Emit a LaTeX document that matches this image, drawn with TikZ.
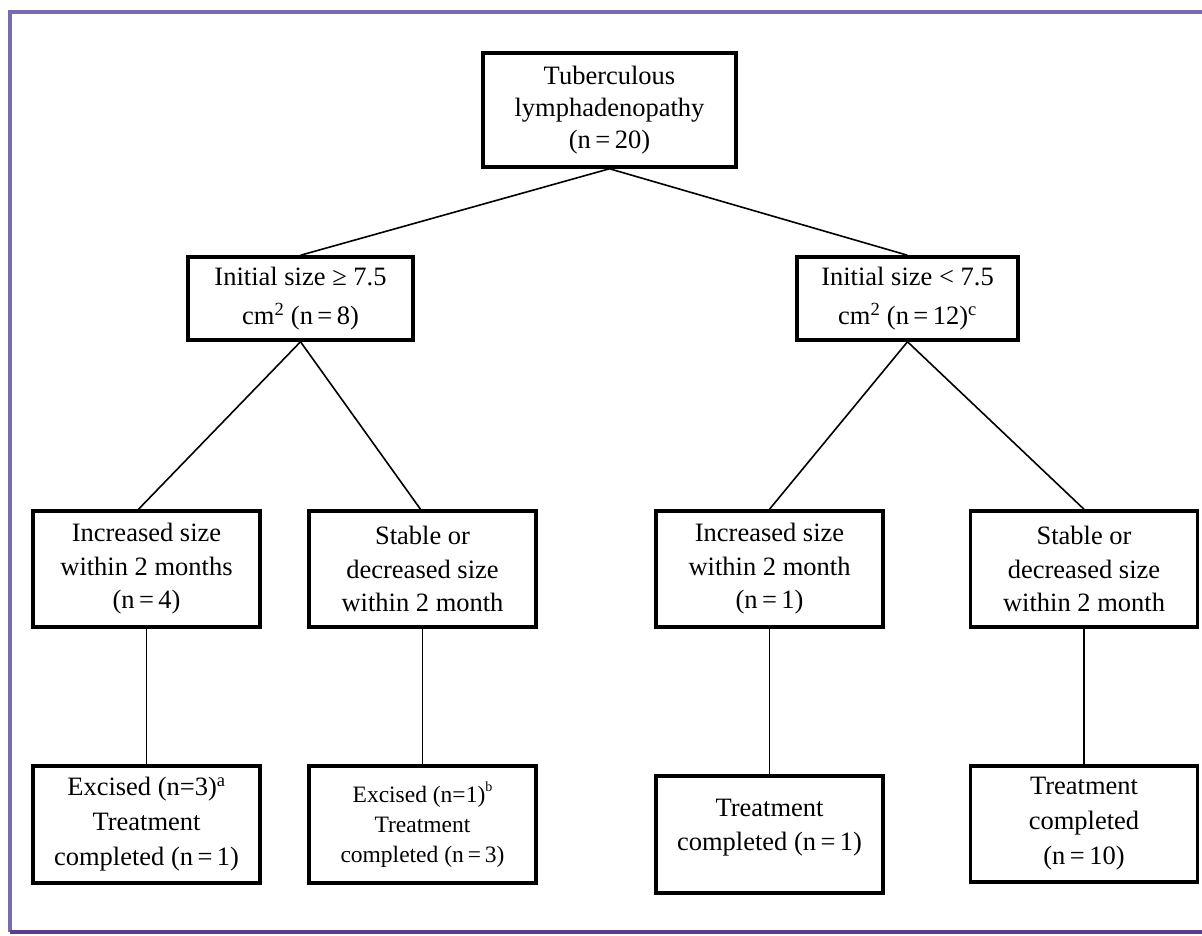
\documentclass[tikz,border=0pt]{standalone}
\usepackage{fontspec}
\setmainfont{Liberation Serif}
\definecolor{framec}{RGB}{122,106,178}
\definecolor{framebot}{RGB}{94,62,140}
\tikzset{
  box/.style={draw, line width=3.5pt, minimum width=227pt, minimum height=116pt,
    inner sep=0pt, align=center, font=\fontsize{26.5}{33.5}\selectfont},
  lnk/.style={line width=1.6pt},
  boxtext/.style={align=center, inner sep=0pt, font=\fontsize{26.5}{34}\selectfont}
}
\begin{document}
\begin{tikzpicture}[x=1pt, y=-1pt]
            \useasboundingbox (0,0) rectangle (1202,935);
            % frame
            \draw[framec, line width=3.5pt] (1202,12) -- (10,12) -- (10,932);
            \draw[framebot, line width=3.5pt] (10,932) -- (1202,932);
            % top
            \node[box, minimum width=253pt, minimum height=114pt, font=\fontsize{26.5}{32}\selectfont] (root) at (609.5,110) {Tuberculous\\lymphadenopathy\\(n\,=\,20)};
            \node[box, minimum width=225pt, minimum height=83pt] (big) at (300.5,298.5) {Initial size ≥ 7.5\\[5pt]cm\textsuperscript{2} (n\,=\,8)};
            \node[box, minimum width=221pt, minimum height=83pt] (small) at (907.5,298.5) {Initial size < 7.5\\[5pt]cm\textsuperscript{2} (n\,=\,12)\textsuperscript{c}};
            % second row
            \node[box] (inc1) at (146.5,569) {Increased size\\within 2 months\\(n\,=\,4)};
            \node[box] (stab1) at (422.5,569) {Stable or\\decreased size\\within 2 month};
            \node[box] (inc2) at (769.5,569) {Increased size\\within 2 month\\(n\,=\,1)};
            \node[box] (stab2) at (1084,569) {Stable or\\decreased size\\within 2 month};
            % last row
            \node[box, minimum height=117pt, font=\fontsize{26.5}{35}\selectfont] (exc1) at (146.5,824.5) {Excised (n=3)\textsuperscript{a}\\Treatment\\completed (n\,=\,1)};
            \node[box, minimum height=117pt, font=\fontsize{23.5}{30}\selectfont] (exc2) at (422.5,824.5) {Excised (n=1)\raisebox{11pt}{\fontsize{14}{14}\selectfont b}\\Treatment\\completed (n\,=\,3)};
            \node[box, minimum height=117pt] (done1) at (769.5,834.5) {};
            \node[boxtext] (done1txt) at (769.5,828) {Treatment\\completed (n\,=\,1)};
            \node[box, font=\fontsize{26.5}{35}\selectfont] (done2) at (1084,824) {Treatment\\completed\\(n\,=\,10)};
            % links
            \draw[lnk] (root.south) -- (big.north);
            \draw[lnk] (root.south) -- (small.north);
            \draw[lnk] (big.south) -- ([xshift=-8pt]inc1.north);
            \draw[lnk] (big.south) -- ([xshift=-2pt]stab1.north);
            \draw[lnk] (small.south) -- (inc2.north);
            \draw[lnk] (small.south) -- (stab2.north);
            \draw[lnk] (inc1.south) -- (exc1.north);
            \draw[lnk] (stab1.south) -- (exc2.north);
            \draw[lnk] (inc2.south) -- (done1.north);
            \draw[lnk] (stab2.south) -- (done2.north);
        \end{tikzpicture}
\end{document}
